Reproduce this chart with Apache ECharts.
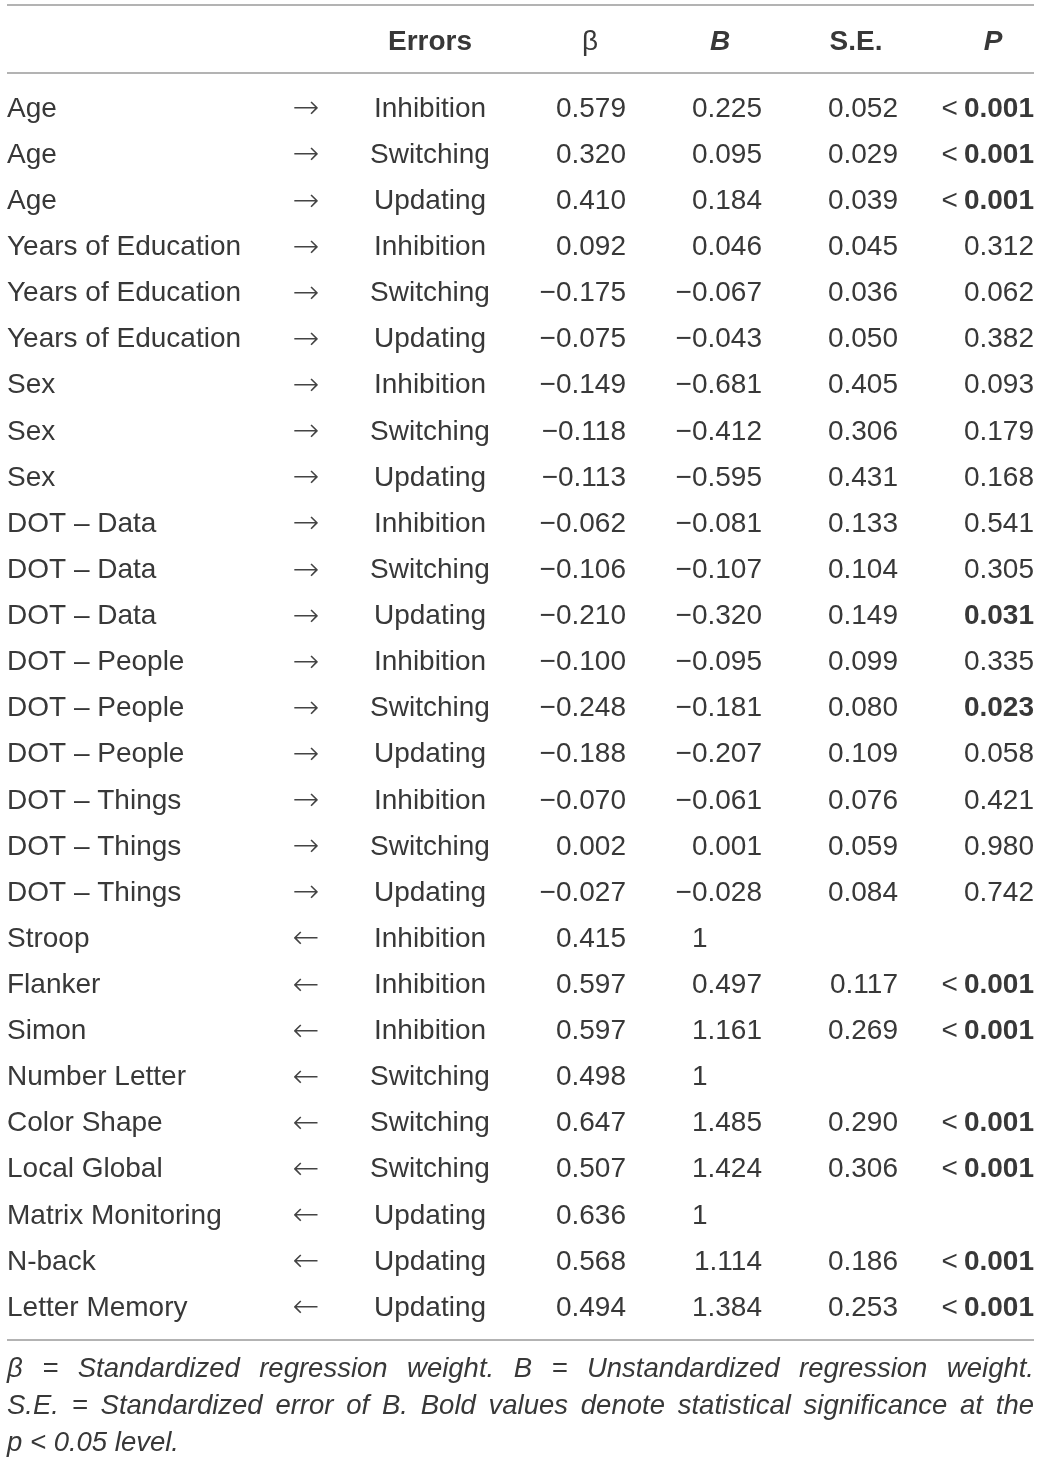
<!DOCTYPE html>
<html><head><meta charset="utf-8">
<script src="https://cdn.jsdelivr.net/npm/echarts@6/dist/echarts.min.js"></script>
<style>html,body{margin:0;padding:0;background:#fff}#c{width:1041px;height:1462px}</style>
</head><body><div id="c"></div>
<script>
// ---------- data ----------
const predictors = ['Age','Age','Age','Years of Education','Years of Education','Years of Education','Sex','Sex','Sex',
  'DOT – Data','DOT – Data','DOT – Data','DOT – People','DOT – People','DOT – People','DOT – Things','DOT – Things','DOT – Things',
  'Stroop','Flanker','Simon','Number Letter','Color Shape','Local Global','Matrix Monitoring','N-back','Letter Memory'];
const directions = ['→','→','→','→','→','→','→','→','→','→','→','→','→','→','→','→','→','→',
  '←','←','←','←','←','←','←','←','←'];
const errors = ['Inhibition','Switching','Updating','Inhibition','Switching','Updating','Inhibition','Switching','Updating',
  'Inhibition','Switching','Updating','Inhibition','Switching','Updating','Inhibition','Switching','Updating',
  'Inhibition','Inhibition','Inhibition','Switching','Switching','Switching','Updating','Updating','Updating'];
const beta = [0.579,0.320,0.410,0.092,-0.175,-0.075,-0.149,-0.118,-0.113,-0.062,-0.106,-0.210,-0.100,-0.248,-0.188,-0.070,0.002,-0.027,
  0.415,0.597,0.597,0.498,0.647,0.507,0.636,0.568,0.494];
const bVals = [0.225,0.095,0.184,0.046,-0.067,-0.043,-0.681,-0.412,-0.595,-0.081,-0.107,-0.320,-0.095,-0.181,-0.207,-0.061,0.001,-0.028,
  1,0.497,1.161,1,1.485,1.424,1,1.114,1.384];
const seVals = [0.052,0.029,0.039,0.045,0.036,0.050,0.405,0.306,0.431,0.133,0.104,0.149,0.099,0.080,0.109,0.076,0.059,0.084,
  null,0.117,0.269,null,0.290,0.306,null,0.186,0.253];
const pVals = ['<0.001','<0.001','<0.001','0.312','0.062','0.382','0.093','0.179','0.168','0.541','0.305','0.031','0.335','0.023','0.058','0.421','0.980','0.742',
  '','<0.001','<0.001','','<0.001','<0.001','','<0.001','<0.001'];
const headers = ['Errors','β','B','S.E.','P'];
const footnote = [
  'β = Standardized regression weight. B = Unstandardized regression weight.',
  'S.E. = Standardized error of B. Bold values denote statistical significance at the',
  'p < 0.05 level.'
];

// ---------- layout / style ----------
const FONT = '"Liberation Sans", Arial, sans-serif';
const ARROW_FONT = '"DejaVu Sans", sans-serif';
const FS = 28;
const COLOR = '#383838';
const RULE = '#9a9a9a';
const W = 1041;
const colX = {pred: 7, dir: 306, err: 430, beta: 626, b: 762, se: 898, p: 1034};

function fmt(v){ return v.toFixed(3).replace('-', '−'); }
const rowIdx = predictors.map((_, i) => i);

function txt(x, y, text, align, extra){
  return {
    type: 'text', x: x, y: y,
    style: Object.assign({text: text, fill: COLOR, fontSize: FS, fontFamily: FONT, align: align, verticalAlign: 'middle'}, extra || {})
  };
}

function renderItem(params, api){
  const i = api.value(0);
  const y = api.coord([0, i])[1];
  const X = v => api.coord([v, i])[0];
  const kids = [];
  kids.push(txt(X(colX.pred), y, predictors[i], 'left'));
  kids.push(txt(X(colX.dir), y + 1, directions[i], 'center', {fontFamily: ARROW_FONT, fontSize: 32, fontWeight: 'lighter', fill: '#444'}));
  kids.push(txt(X(colX.err), y, errors[i], 'center'));
  kids.push(txt(X(colX.beta), y, fmt(beta[i]), 'right'));
  const bv = bVals[i];
  if (Number.isInteger(bv)) {
    kids.push(txt(X(colX.b), y, bv + '{h|.000}', 'right', {rich: {h: {fill: 'rgba(0,0,0,0)', fontSize: FS, fontFamily: FONT}}}));
  } else {
    kids.push(txt(X(colX.b), y, fmt(bv), 'right'));
  }
  if (seVals[i] !== null) kids.push(txt(X(colX.se), y, fmt(seVals[i]), 'right'));
  const p = pVals[i];
  if (p) {
    const rich = {lt: {fill: COLOR, fontSize: FS, fontFamily: FONT, padding: [0, 6, 0, 0]}, bd: {fill: COLOR, fontSize: FS, fontFamily: FONT, fontWeight: 'bold'}};
    if (p[0] === '<') {
      kids.push(txt(X(colX.p), y, '{lt|<}{bd|' + p.slice(1) + '}', 'right', {rich: rich}));
    } else if (parseFloat(p) < 0.05) {
      kids.push(txt(X(colX.p), y, p, 'right', {fontWeight: 'bold'}));
    } else {
      kids.push(txt(X(colX.p), y, p, 'right'));
    }
  }
  return {type: 'group', children: kids};
}

// ---------- footnote justification ----------
const FN_FS = 27.5;
const cv = document.createElement('canvas').getContext('2d');
function measure(s, fs){ cv.font = 'italic ' + fs + 'px ' + FONT; return cv.measureText(s).width; }
const span = colX.p - colX.pred;
let fnFs = FN_FS;
const natural = measure(footnote[1], FN_FS);
if (natural > span) fnFs = FN_FS * span / natural;
const fnY = [1369, 1406, 1443];
const fnGraphics = [];
footnote.forEach((line, li) => {
  const words = line.split(' ');
  const ww = words.map(w => measure(w, fnFs));
  const total = ww.reduce((a, b) => a + b, 0);
  const justify = li < footnote.length - 1;
  const gap = justify ? (span - total) / (words.length - 1) : measure(' ', fnFs);
  let x = colX.pred;
  words.forEach((w, wi) => {
    fnGraphics.push({type: 'text', x: x, y: fnY[li], style: {text: w, fill: COLOR, fontSize: fnFs, fontFamily: FONT, fontStyle: 'italic', align: 'left', verticalAlign: 'middle'}});
    x += ww[wi] + gap;
  });
});

// ---------- header ----------
const headerY = 42;
function hdr(x, text, weight, style){
  return {type: 'text', x: x, y: headerY, style: {text: text, fill: COLOR, fontSize: FS, fontFamily: FONT, fontWeight: weight, fontStyle: style, align: 'center', verticalAlign: 'middle'}};
}
const headerGraphics = [
  hdr(colX.err, headers[0], 'bold', 'normal'),
  hdr(590, headers[1], 'normal', 'normal'),
  hdr(720, headers[2], 'bold', 'italic'),
  hdr(856, headers[3], 'bold', 'normal'),
  hdr(993, headers[4], 'bold', 'italic')
];
const rules = [5, 73, 1340].map(y => ({type: 'line', shape: {x1: colX.pred, y1: y, x2: colX.p, y2: y}, style: {stroke: RULE, lineWidth: 1.5}}));

const chart = echarts.init(document.getElementById('c'), null, {renderer: 'canvas'});
chart.setOption({
  backgroundColor: '#fff',
  animation: false,
  grid: {left: 0, right: 0, top: 86, height: 27 * 46.115},
  xAxis: {type: 'value', min: 0, max: W, show: false},
  yAxis: {type: 'category', data: rowIdx.map(String), inverse: true, show: false},
  graphic: {elements: rules.concat(headerGraphics, fnGraphics)},
  series: [{type: 'custom', renderItem: renderItem, data: rowIdx.map(i => [i]), encode: {y: 0}, silent: true}]
});
</script></body></html>
